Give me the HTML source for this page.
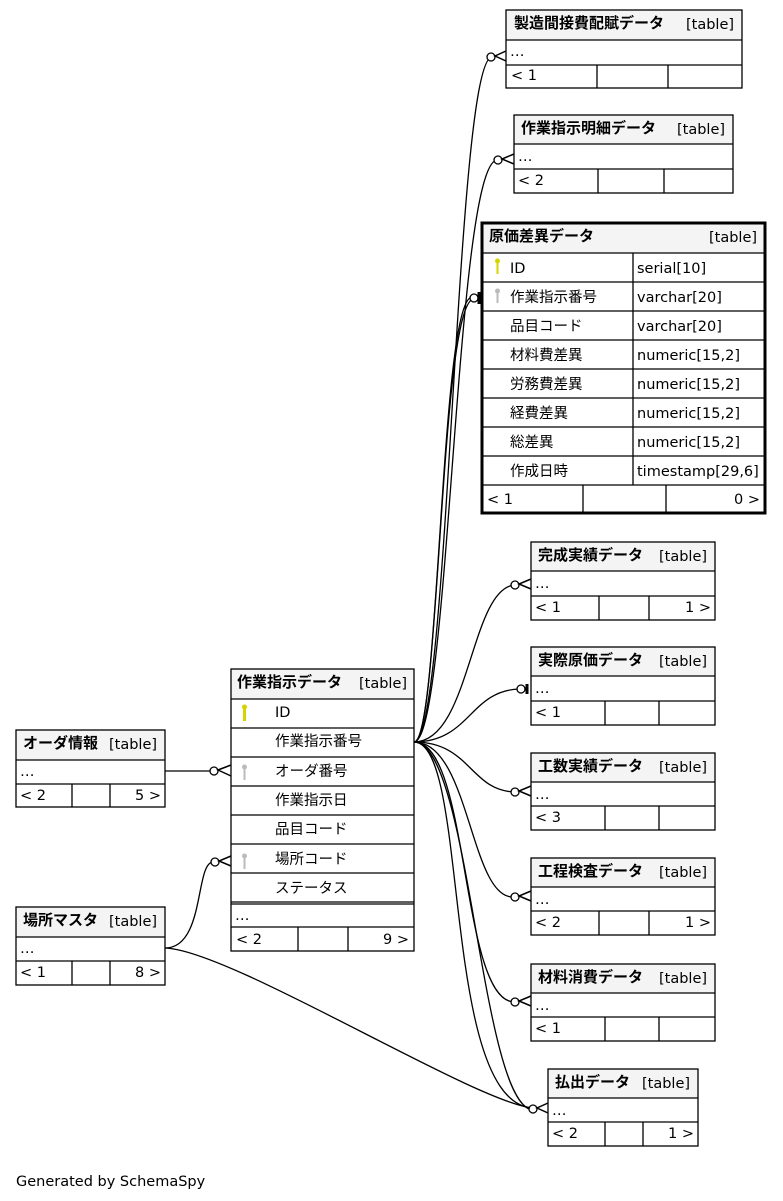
<!DOCTYPE html>
<html><head><meta charset="utf-8"><style>
body{margin:0;background:#fff;width:783px;height:1201px;overflow:hidden}
svg{display:block}
text{font-family:"DejaVu Sans","Noto Sans CJK JP",sans-serif;font-size:14.5px;fill:#000}
.b{font-weight:bold;font-size:15px}
.h{fill:#f4f4f4}
</style></head><body>
<svg width="783" height="1201" viewBox="0 0 783 1201" xmlns="http://www.w3.org/2000/svg">
<g fill="none" stroke="#000" stroke-width="1.3">
<path d="M414,742 C450,742 455,60 492,57"/>
<path d="M414,742 C450,742 455,165 497,160"/>
<path d="M414,742 C440,742 440,300 474,299"/>
<path d="M414,742 C440,742 440,300 472,297"/>
<path d="M414,742 C470,742 470,590 514,585"/>
<path d="M414,742 C470,742 470,690 520,689"/>
<path d="M414,742 C470,742 470,790 514,792"/>
<path d="M414,742 C470,742 470,900 514,897"/>
<path d="M414,742 C470,742 460,1000 514,1002"/>
<path d="M414,742 C470,742 440,1100 532,1108"/>
<path d="M414,742 C470,742 480,1100 532,1110"/>
<path d="M165,771 L210,771"/>
<path d="M165,948 C205,948 195,863 213,862"/>
<path d="M165,948 C230,950 470,1100 532,1108"/>
</g>
<g fill="#fff" stroke="#000" stroke-width="1.3">
<circle cx="491" cy="57" r="4"/><circle cx="498" cy="160" r="4"/><circle cx="474" cy="298" r="4"/>
<circle cx="515" cy="585" r="4"/><circle cx="521" cy="689" r="4"/><circle cx="515" cy="792" r="4"/>
<circle cx="515" cy="897" r="4"/><circle cx="515" cy="1002" r="4"/><circle cx="533" cy="1109" r="4"/>
<circle cx="214" cy="771" r="4"/><circle cx="215" cy="862" r="4"/>
</g>
<g stroke="#000" stroke-width="1.5" fill="none">
<path d="M506,51 L495,56 L506,61"/><path d="M514,154 L502,159 L514,164"/>
<path d="M531,579 L519,584 L531,589"/><path d="M531,786 L519,791 L531,796"/>
<path d="M531,891 L519,896 L531,901"/><path d="M531,996 L519,1001 L531,1006"/>
<path d="M548,1103 L537,1108 L548,1113"/><path d="M231,765 L218,770 L231,776"/>
<path d="M231,856 L219,861 L231,866"/>
<path d="M479,292 L479,304" stroke-width="3"/><path d="M527,684 L527,694" stroke-width="3"/>
</g>

<rect x="506" y="10" width="236" height="30" class="h"/>
<g fill="none" stroke="#000" stroke-width="1.3"><rect x="506" y="10" width="236" height="78"/><path d="M506,40H742M506,65H742M597,65V88M668,65V88"/></g>
<text x="514" y="28" class="b">製造間接費配賦データ</text><text x="686" y="29">[table]</text>
<text x="510" y="56">…</text><text x="511" y="80">&lt; 1</text>

<rect x="514" y="115" width="219" height="29" class="h"/>
<g fill="none" stroke="#000" stroke-width="1.3"><rect x="514" y="115" width="219" height="78"/><path d="M514,144H733M514,169H733M598,169V193M664,169V193"/></g>
<text x="521" y="133" class="b">作業指示明細データ</text><text x="677" y="134">[table]</text>
<text x="518" y="161">…</text><text x="518" y="185">&lt; 2</text>

<rect x="482" y="223" width="283" height="30" class="h"/>
<g fill="none" stroke="#000" stroke-width="1.3"><path d="M482,253H765M482,282H765M482,311H765M482,340H765M482,369H765M482,398H765M482,427H765M482,456H765M482,485H765M633,253V485M583,485V513M666,485V513"/></g>
<rect x="482" y="223" width="283" height="290" fill="none" stroke="#000" stroke-width="3"/>
<text x="489" y="241" class="b">原価差異データ</text><text x="709" y="242">[table]</text>
<g><circle cx="497.5" cy="261" r="2.5" fill="#d4d400"/><rect x="496.5" y="262" width="2" height="12" fill="#d4d400"/></g>
<g><circle cx="497.5" cy="291" r="2.5" fill="#bbb"/><rect x="496.5" y="293" width="2" height="10" fill="#bbb"/></g>
<text x="510" y="273">ID</text><text x="637" y="273">serial[10]</text>
<text x="510" y="302">作業指示番号</text><text x="637" y="302">varchar[20]</text>
<text x="510" y="331">品目コード</text><text x="637" y="331">varchar[20]</text>
<text x="510" y="360">材料費差異</text><text x="637" y="360">numeric[15,2]</text>
<text x="510" y="389">労務費差異</text><text x="637" y="389">numeric[15,2]</text>
<text x="510" y="418">経費差異</text><text x="637" y="418">numeric[15,2]</text>
<text x="510" y="447">総差異</text><text x="637" y="447">numeric[15,2]</text>
<text x="510" y="476">作成日時</text><text x="637" y="476">timestamp[29,6]</text>
<text x="487" y="504">&lt; 1</text><text x="760" y="504" text-anchor="end">0 &gt;</text>

<rect x="531" y="542" width="184" height="29" class="h"/>
<g fill="none" stroke="#000" stroke-width="1.3"><rect x="531" y="542" width="184" height="78"/><path d="M531,571H715M531,596H715M599,596V620M649,596V620"/></g>
<text x="538" y="560" class="b">完成実績データ</text><text x="659" y="561">[table]</text>
<text x="535" y="588">…</text><text x="535" y="612">&lt; 1</text><text x="711" y="612" text-anchor="end">1 &gt;</text>

<rect x="531" y="647" width="184" height="29" class="h"/>
<g fill="none" stroke="#000" stroke-width="1.3"><rect x="531" y="647" width="184" height="78"/><path d="M531,676H715M531,701H715M605,701V725M659,701V725"/></g>
<text x="538" y="665" class="b">実際原価データ</text><text x="659" y="666">[table]</text>
<text x="535" y="693">…</text><text x="535" y="717">&lt; 1</text>

<rect x="531" y="753" width="184" height="29" class="h"/>
<g fill="none" stroke="#000" stroke-width="1.3"><rect x="531" y="753" width="184" height="77"/><path d="M531,782H715M531,806H715M605,806V830M659,806V830"/></g>
<text x="538" y="771" class="b">工数実績データ</text><text x="659" y="772">[table]</text>
<text x="535" y="799">…</text><text x="535" y="822">&lt; 3</text>

<rect x="531" y="858" width="184" height="29" class="h"/>
<g fill="none" stroke="#000" stroke-width="1.3"><rect x="531" y="858" width="184" height="77"/><path d="M531,887H715M531,911H715M599,911V935M649,911V935"/></g>
<text x="538" y="876" class="b">工程検査データ</text><text x="659" y="877">[table]</text>
<text x="535" y="904">…</text><text x="535" y="927">&lt; 2</text><text x="711" y="927" text-anchor="end">1 &gt;</text>

<rect x="531" y="964" width="184" height="29" class="h"/>
<g fill="none" stroke="#000" stroke-width="1.3"><rect x="531" y="964" width="184" height="77"/><path d="M531,993H715M531,1017H715M605,1017V1041M659,1017V1041"/></g>
<text x="538" y="982" class="b">材料消費データ</text><text x="659" y="983">[table]</text>
<text x="535" y="1010">…</text><text x="535" y="1033">&lt; 1</text>

<rect x="548" y="1069" width="150" height="29" class="h"/>
<g fill="none" stroke="#000" stroke-width="1.3"><rect x="548" y="1069" width="150" height="77"/><path d="M548,1098H698M548,1122H698M605,1122V1146M643,1122V1146"/></g>
<text x="555" y="1087" class="b">払出データ</text><text x="642" y="1088">[table]</text>
<text x="552" y="1115">…</text><text x="552" y="1138">&lt; 2</text><text x="694" y="1138" text-anchor="end">1 &gt;</text>

<rect x="231" y="669" width="183" height="30" class="h"/>
<g fill="none" stroke="#000" stroke-width="1.3"><rect x="231" y="669" width="183" height="282"/><path d="M231,699H414M231,728H414M231,757H414M231,786H414M231,815H414M231,844H414M231,873H414M231,902H414M231,904H414M231,927H414M298,927V951M348,927V951"/></g>
<text x="237" y="687" class="b">作業指示データ</text><text x="359" y="688">[table]</text>
<g><circle cx="244.5" cy="707" r="2.5" fill="#d4d400"/><rect x="243" y="708" width="3" height="13" fill="#d4d400"/></g>
<g><circle cx="244.5" cy="767" r="2.5" fill="#bbb"/><rect x="243.5" y="768" width="2" height="12" fill="#bbb"/></g>
<g><circle cx="244.5" cy="856" r="2.5" fill="#bbb"/><rect x="243.5" y="857" width="2" height="12" fill="#bbb"/></g>
<text x="275" y="717">ID</text><text x="275" y="746">作業指示番号</text><text x="275" y="776">オーダ番号</text>
<text x="275" y="805">作業指示日</text><text x="275" y="834">品目コード</text><text x="275" y="864">場所コード</text>
<text x="275" y="893">ステータス</text><text x="235" y="920">…</text>
<text x="236" y="944">&lt; 2</text><text x="409" y="944" text-anchor="end">9 &gt;</text>

<rect x="16" y="730" width="149" height="30" class="h"/>
<g fill="none" stroke="#000" stroke-width="1.3"><rect x="16" y="730" width="149" height="77"/><path d="M16,760H165M16,784H165M72,784V807M110,784V807"/></g>
<text x="23" y="748" class="b">オーダ情報</text><text x="109" y="749">[table]</text>
<text x="20" y="776">…</text><text x="20" y="800">&lt; 2</text><text x="161" y="800" text-anchor="end">5 &gt;</text>
<rect x="16" y="907" width="149" height="30" class="h"/>
<g fill="none" stroke="#000" stroke-width="1.3"><rect x="16" y="907" width="149" height="78"/><path d="M16,937H165M16,961H165M72,961V985M110,961V985"/></g>
<text x="23" y="925" class="b">場所マスタ</text><text x="109" y="926">[table]</text>
<text x="20" y="953">…</text><text x="20" y="977">&lt; 1</text><text x="161" y="977" text-anchor="end">8 &gt;</text>

<text x="16" y="1186">Generated by SchemaSpy</text>
</svg>
</body></html>
